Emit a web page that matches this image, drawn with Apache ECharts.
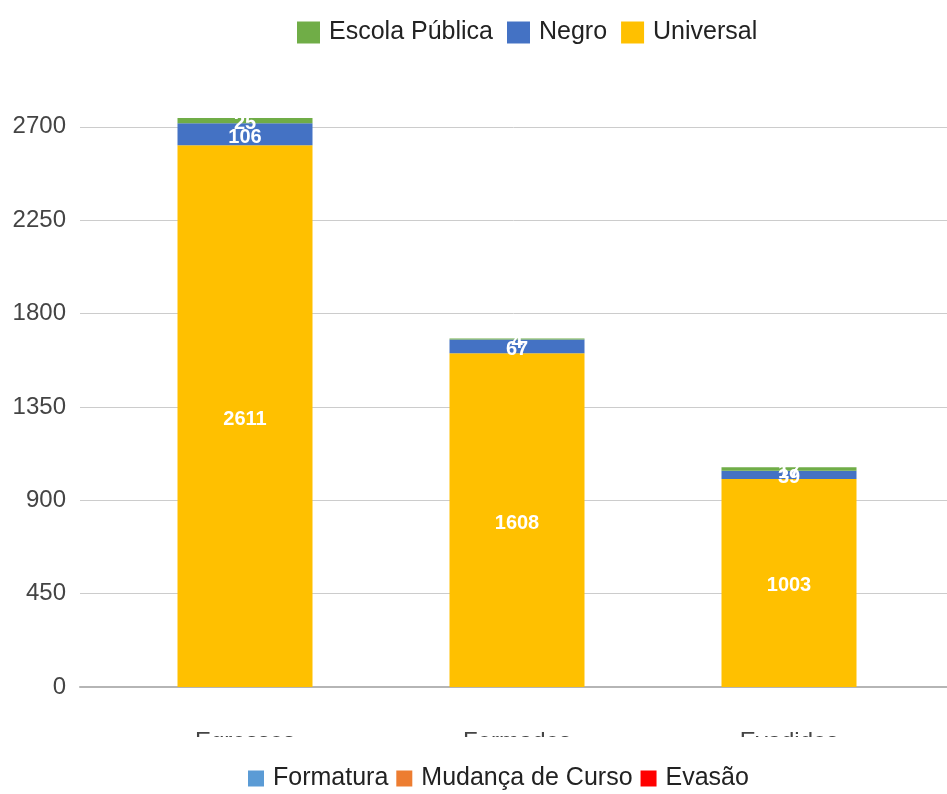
<!DOCTYPE html>
<html>
<head>
<meta charset="utf-8">
<title>Egressos / Formados / Evadidos</title>
<script src="https://cdn.jsdelivr.net/npm/echarts@6/dist/echarts.min.js"></script>
<style>
html,body{margin:0;padding:0;background:#fff;}
#chart{width:947px;height:794px;}
</style>
</head>
<body>
<div id="chart"></div>
<script>
// dados
var categorias = ['Egressos', 'Formados', 'Evadidos'];
var universal = [2611, 1608, 1003];
var negro = [106, 67, 39];
var escolaPublica = [25, 4, 17];
var yTicks = [0, 450, 900, 1350, 1800, 2250, 2700];
var legendaInferior = ['Formatura', 'Mudança de Curso', 'Evasão'];

var FONT = 'Arial, "Liberation Sans", sans-serif';
var Y_MAX = 2800;

function labelCfg(){
	return {
		show: true,
		position: 'inside',
		offset: [0, 3],
		color: '#fff',
		fontFamily: FONT,
		fontWeight: 'bold',
		fontSize: 20
	};
}

function barSerie(name, data, color){
	return {
		name: name,
		type: 'bar',
		stack: 'total',
		xAxisIndex: 1,
		yAxisIndex: 1,
		barWidth: 135,
		data: data,
		itemStyle: { color: color },
		label: labelCfg()
	};
}

function emptySerie(name, color){
	return {
		name: name,
		type: 'bar',
		xAxisIndex: 0,
		yAxisIndex: 0,
		data: [],
		itemStyle: { color: color }
	};
}

function initOpt(){
	return {
		animation: false,
		legend: [{
			data: ['Escola Pública', 'Negro', 'Universal'],
			left: 292,
			top: 15,
			itemWidth: 23,
			itemHeight: 22,
			itemGap: 14,
			icon: 'rect',
			textStyle: { color: '#222', fontFamily: FONT, fontSize: 25, lineHeight: 25, padding: [0, 0, 0, 4] }
		}, {
			data: legendaInferior,
			left: 243,
			top: 761,
			itemWidth: 16,
			itemHeight: 16,
			itemGap: 8,
			icon: 'rect',
			textStyle: { color: '#222', fontFamily: FONT, fontSize: 25, lineHeight: 25, padding: [0, 0, 0, 4] }
		}],
		grid: [
			{ left: 80, right: 0, top: 106, bottom: 107 },   // linhas de grade
			{ left: 109, right: 22, top: 106, bottom: 107 }  // barras
		],
		xAxis: [{
			gridIndex: 0,
			type: 'category',
			data: [''],
			axisTick: { show: false },
			axisLabel: { show: false },
			axisLine: { show: true, lineStyle: { color: '#b5b5b5', width: 2 } }
		}, {
			gridIndex: 1,
			type: 'category',
			data: categorias,
			axisTick: { show: false },
			axisLine: { show: false },
			axisLabel: {
				color: '#444',
				fontFamily: FONT,
				fontSize: 24,
				lineHeight: 24,
				margin: 43
			}
		}],
		yAxis: [{
			gridIndex: 0,
			type: 'value',
			min: 0,
			max: Y_MAX,
			interval: 450,
			axisLine: { show: false },
			axisTick: { show: false },
			axisLabel: {
				color: '#444',
				fontFamily: FONT,
				fontSize: 24,
				margin: 14,
				showMaxLabel: false,
				formatter: function(v){
					return yTicks.indexOf(v) > -1 ? String(v) : '';
				}
			},
			splitLine: { show: true, showMaxLine: false, lineStyle: { color: '#cccccc', width: 1 } }
		}, {
			gridIndex: 1,
			type: 'value',
			min: 0,
			max: Y_MAX,
			show: false,
			splitLine: { show: false }
		}],
		graphic: [{
			// o rótulo do eixo aparece cortado no original
			type: 'rect',
			z: 100,
			shape: { x: 0, y: 737, width: 947, height: 22 },
			style: { fill: '#fff' }
		}],
		series: [
			barSerie('Universal', universal, '#ffc000'),
			barSerie('Negro', negro, '#4472c4'),
			barSerie('Escola Pública', escolaPublica, '#70ad47'),
			emptySerie('Formatura', '#5b9bd5'),
			emptySerie('Mudança de Curso', '#ed7d31'),
			emptySerie('Evasão', '#ff0000')
		]
	};
}

var myChart = echarts.init(document.getElementById('chart'));
myChart.setOption(initOpt());
</script>
</body>
</html>
